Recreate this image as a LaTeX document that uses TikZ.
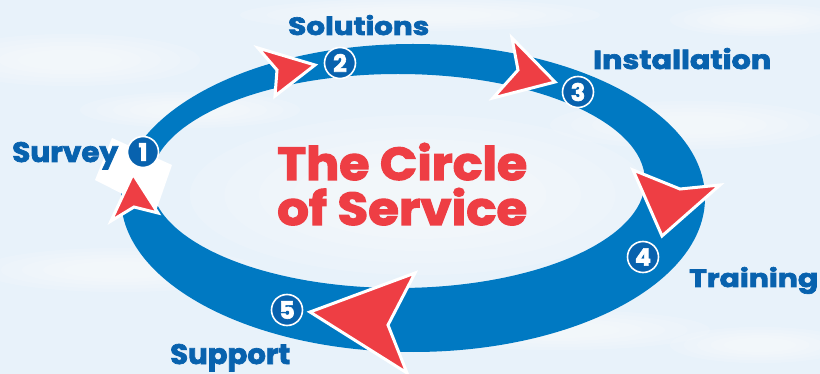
\documentclass[tikz,border=0pt]{standalone}
\usepackage{fontspec}
\setmainfont{Poppins}[BoldFeatures={FakeBold=2.5}]
\usepackage{graphicx}
\definecolor{bandblue}{RGB}{0,121,194}
\definecolor{labelblue}{RGB}{8,98,174}
\definecolor{arrowred}{RGB}{238,62,68}
\definecolor{sky}{RGB}{232,242,250}
\newcommand{\fitbox}[3]{\resizebox{#1pt}{#2pt}{\bfseries #3}}
\newcommand{\softcloud}[4]{%
  \foreach \s in {1.0,0.85,0.7,0.55,0.4}{%
    \fill[white, opacity=0.14] (#1,#2) ellipse [x radius=\s*#3, y radius=\s*#4];}}
\tikzset{
  lbl/.style={inner sep=0pt, anchor=base west, text=labelblue},
  ttl/.style={inner sep=0pt, anchor=base west, text=arrowred},
  num/.style={circle, fill=labelblue, draw=white, line width=1.6pt, minimum size=31pt, inner sep=0pt, text=white, font=\bfseries\fontsize{24}{24}\selectfont},
  arw/.style={fill=arrowred, draw=white, line width=3pt, line join=miter}
}
\begin{document}
\begin{tikzpicture}[x=1pt,y=-1pt]
\useasboundingbox (0,0) rectangle (820,374);
% background
\fill[sky] (0,0) rectangle (820,374);
\softcloud{70}{60}{130}{26}
\softcloud{190}{110}{110}{18}
\softcloud{690}{125}{140}{24}
\softcloud{120}{270}{140}{22}
\softcloud{560}{330}{150}{20}
\softcloud{760}{345}{90}{18}
\softcloud{420}{15}{180}{16}
\softcloud{420}{195}{230}{80}
\softcloud{760}{20}{90}{16}
% band
\fill[bandblue, even odd rule] (413,198) ellipse [x radius=292, y radius=154]
  (398,181) ellipse [x radius=247, y radius=107];
% white patch at step 1
\fill[white] (95,180) -- (112,138) -- (172,165) -- (156,211) -- cycle;
% arrowheads
\coordinate (a1t) at (133,174);
\draw[arw] (a1t) -- (158,213) -- (134,207) -- (111,221) -- cycle;
\coordinate (a2t) at (315,65);
\draw[arw] (a2t) -- (275,96) -- (277,70) -- (258,48) -- cycle;
\coordinate (a3t) at (555,82);
\draw[arw] (a3t) -- (493,98) -- (518,70) -- (512,38) -- cycle;
\coordinate (a4t) at (662,236);
\draw[arw] (a4t) -- (633,170) -- (680,189) -- (720,185) -- cycle;
\coordinate (a5t) at (310,312);
\draw[arw] (a5t) -- (415,273) -- (388,325) -- (407,373) -- cycle;
% numbered circles
\node[num] (n1) at (143,152) {1};
\node[num] (n2) at (340,63) {2};
\node[num] (n3) at (578,92) {3};
\node[num] (n4) at (643,257) {4};
\node[num] (n5) at (287,310) {5};
% labels
\node[lbl] (survey) at (12,162) {\fitbox{106}{20}{Survey}};
\node[lbl] (solutions) at (288,35) {\fitbox{141}{20}{Solutions}};
\node[lbl] (installation) at (593,69) {\fitbox{178}{21}{Installation}};
\node[lbl] (training) at (689,287) {\fitbox{129}{20}{Training}};
\node[lbl] (support) at (170,364) {\fitbox{120}{20}{Support}};
% title
\node[ttl] (title1) at (277,180) {\fitbox{250}{37}{The Circle}};
\node[ttl] (title2) at (277,225) {\fitbox{250}{37}{of Service}};
\end{tikzpicture}
\end{document}
